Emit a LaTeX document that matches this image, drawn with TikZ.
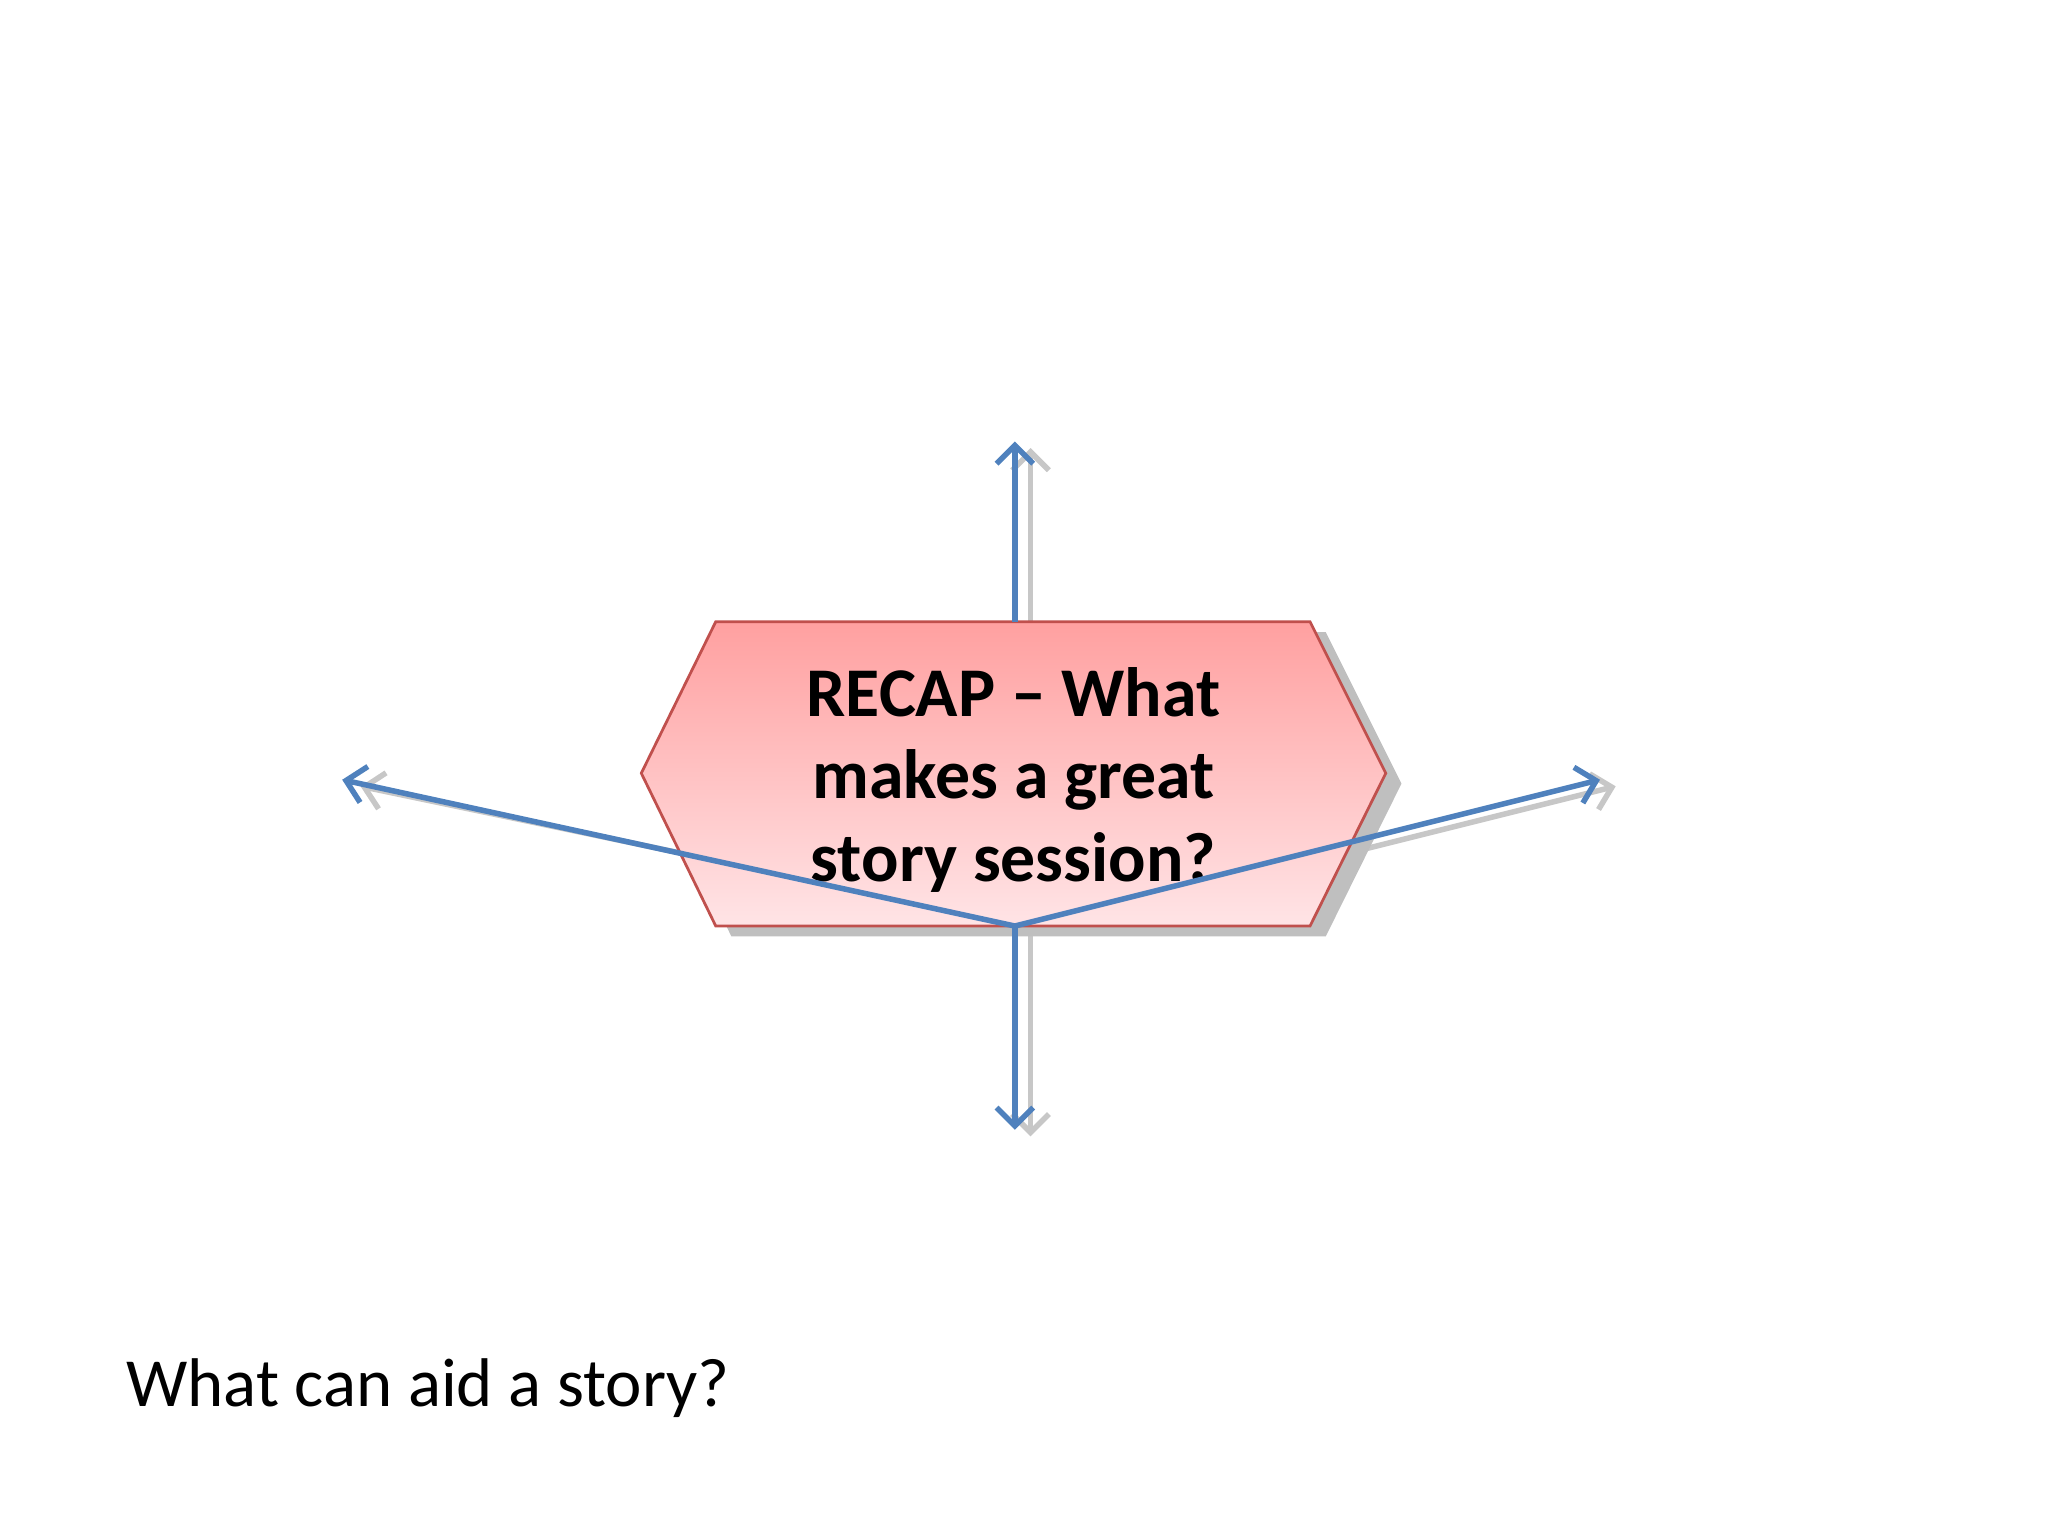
\documentclass[tikz,border=0pt]{standalone}
\usepackage{fontspec}
\setmainfont{Carlito}
\usetikzlibrary{arrows.meta}
\definecolor{ablue}{RGB}{79,129,189}
\definecolor{hred}{RGB}{192,80,77}
\definecolor{htop}{RGB}{255,160,160}
\definecolor{hbot}{RGB}{255,228,230}
\begin{document}
\begin{tikzpicture}[x=0.01cm,y=-0.01cm,
  arr/.style={ablue,line width=1.2pt,-{Straight Barb[length=4pt,width=8pt]}},
  sh/.style={black!22,line width=1.2pt,-{Straight Barb[length=4pt,width=8pt]}}]
\useasboundingbox (0,0) rectangle (1568,1176);
\coordinate (c) at (777,709);
\coordinate (t) at (777,476);
\coordinate (u) at (777,338);
\coordinate (d) at (777,865);
\coordinate (l) at (262,597);
\coordinate (r) at (1225,597);
% arrow shadows
\draw[sh] ([xshift=0.12cm]t) -- ([xshift=0.12cm,yshift=-0.05cm]u);
\draw[sh] ([xshift=0.12cm,yshift=-0.05cm]c) -- ([xshift=0.12cm,yshift=-0.05cm]r);
\draw[sh] ([xshift=0.12cm]c) -- ([xshift=0.12cm,yshift=-0.05cm]d);
\draw[sh] ([xshift=0.12cm]c) -- ([xshift=0.14cm,yshift=-0.05cm]l);
% shadow of hexagon
\fill[black!25] (560,484) -- (1015,484) -- (1073,600) -- (1015,717) -- (560,717) -- (503,600) -- cycle;
\shade[top color=htop,bottom color=hbot,draw=hred,line width=0.6pt]
  (548,476) -- (1003,476) -- (1061,592) -- (1003,709) -- (548,709) -- (491,592) -- cycle;
\node (hex) at (776,597) [align=center,font=\bfseries\fontsize{15.2}{18}\selectfont] {RECAP – What\\makes a great\\story session?};
\draw[arr] (t) -- (u);
\draw[arr] (c) -- (d);
\draw[arr] (c) -- (l);
\draw[arr] (c) -- (r);
\node (q) at (96,1063) [anchor=west,inner sep=0pt,font=\fontsize{15}{18}\selectfont] {What can aid a story?};
\end{tikzpicture}
\end{document}
